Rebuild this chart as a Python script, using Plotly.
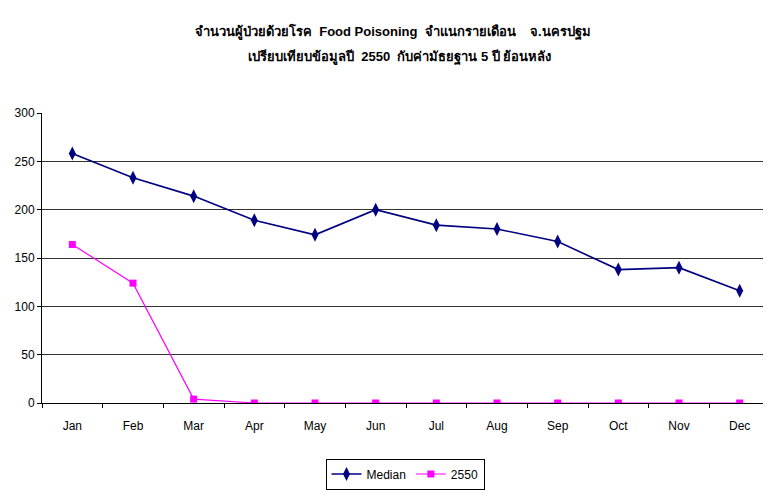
import plotly.graph_objects as go

months = ["Jan", "Feb", "Mar", "Apr", "May", "Jun", "Jul", "Aug", "Sep", "Oct", "Nov", "Dec"]
median_vals = [258, 233, 214, 189, 174, 200, 184, 180, 167, 138, 140, 116]
y2550_vals = [164, 124, 4, 0, 0, 0, 0, 0, 0, 0, 0, 0]
y_ticks = [0, 50, 100, 150, 200, 250, 300]

title_line1 = "<b>จำนวนผู้ป่วยด้วยโรค  Food Poisoning  จำแนกรายเดือน    จ.นครปฐม</b>"
title_line2 = "<b>เปรียบเทียบข้อมูลปี  2550  กับค่ามัธยฐาน 5 ปี ย้อนหลัง</b>"

# page is offset by the 8px default body margin
OFF = 8
W, H = 771 - OFF, 496 - OFF
L, R, T, B = 42 - OFF, 1, 113 - OFF, 93
pw = W - L - R
ph = H - T - B


def px(x):
    return (x - OFF - L) / pw


def py(y):
    return (H - B - (y - OFF)) / ph


fig = go.Figure()
fig.add_trace(go.Scatter(
    x=months, y=median_vals, name="Median", mode="lines+markers",
    line=dict(color="#000080", width=1.6),
    marker=dict(symbol="diamond-tall", size=10, color="#000080"),
))
fig.add_trace(go.Scatter(
    x=months, y=y2550_vals, name="2550", mode="lines+markers",
    line=dict(color="#FF00FF", width=1.2),
    marker=dict(symbol="square", size=7, color="#FF00FF"),
))

title_font = dict(family="Liberation Sans, Arial, sans-serif", size=13, color="black")
fig.add_annotation(text=title_line1, xref="paper", yref="paper",
                   x=px(393), y=py(32), xanchor="center", yanchor="middle",
                   showarrow=False, font=title_font)
fig.add_annotation(text=title_line2, xref="paper", yref="paper",
                   x=px(399), y=py(57), xanchor="center", yanchor="middle",
                   showarrow=False, font=title_font)

fig.update_layout(
    width=W, height=H,
    margin=dict(l=L, r=R, t=T, b=B, pad=0),
    paper_bgcolor="white",
    plot_bgcolor="white",
    font=dict(family="Liberation Sans Narrow, Liberation Sans, Arial, sans-serif", size=12, color="black"),
    showlegend=True,
    legend=dict(orientation="h", x=px(405), xanchor="center", y=py(474), yanchor="middle",
                bordercolor="black", borderwidth=1, bgcolor="white",
                font=dict(size=12), itemwidth=30, tracegroupgap=0),
    xaxis=dict(
        type="category", range=[-0.5, 11.5],
        showline=True, linecolor="black", linewidth=1,
        ticks="outside", tickson="boundaries", ticklen=4, tickcolor="black",
        ticklabelstandoff=12,
        showgrid=False, zeroline=False,
    ),
    yaxis=dict(
        range=[0, 300], tickvals=y_ticks,
        showline=True, linecolor="black", linewidth=1,
        ticks="outside", ticklen=4, tickcolor="black",
        showgrid=True, gridcolor="#333333", gridwidth=1,
        zeroline=False,
    ),
)

fig.write_html("out.html")
